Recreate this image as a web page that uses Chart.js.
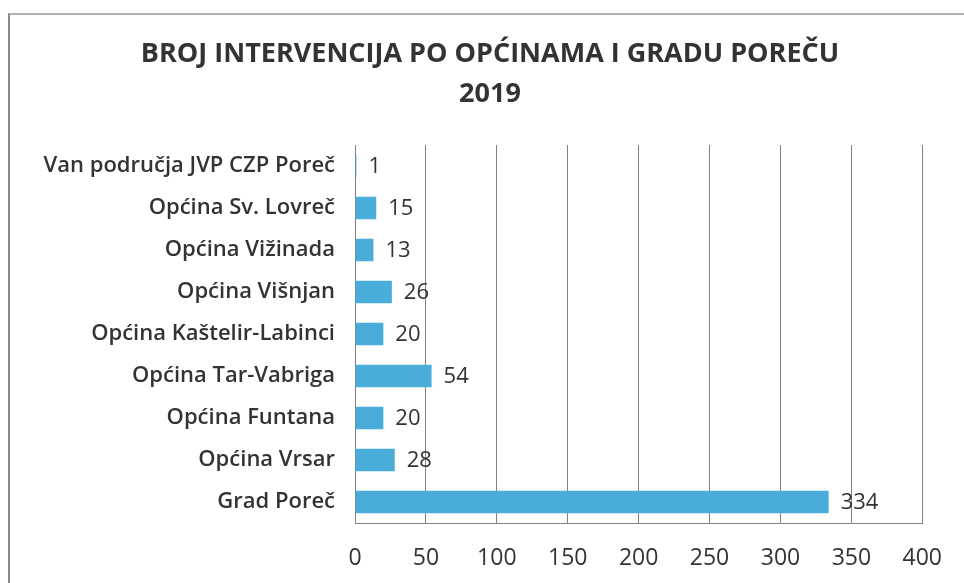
<!DOCTYPE html>
<html>
<head>
<meta charset="utf-8">
<script src="https://cdn.jsdelivr.net/npm/chart.js@4.4.1/dist/chart.umd.min.js"></script>
<style>
  html, body { margin: 0; padding: 0; background: #fff; }
  #wrap { position: relative; width: 964px; height: 583px; overflow: hidden; }
  #frame { position: absolute; left: 8px; top: 13px; width: 1000px; height: 1000px;
           border-left: 2px solid #8a8a8a; border-top: 2px solid #b0b0b0; box-sizing: border-box; }
  canvas { position: absolute; left: 0; top: 0; }
</style>
</head>
<body>
<div id="wrap">
  <div id="frame"></div>
  <canvas id="c" width="964" height="583"></canvas>
</div>
<script>
const categories = [
  'Van područja JVP CZP Poreč',
  'Općina Sv. Lovreč',
  'Općina Vižinada',
  'Općina Višnjan',
  'Općina Kaštelir-Labinci',
  'Općina Tar-Vabriga',
  'Općina Funtana',
  'Općina Vrsar',
  'Grad Poreč'
];
const values = [1, 15, 13, 26, 20, 54, 20, 28, 334];
const titleLines = ['BROJ INTERVENCIJA PO OPĆINAMA I GRADU POREČU', '2019'];
const xMin = 0, xMax = 400, xStep = 50;

const FONT = "'Open Sans', 'DejaVu Sans', sans-serif";

const valueLabels = {
  id: 'valueLabels',
  afterDatasetsDraw(chart) {
    const ctx = chart.ctx;
    const meta = chart.getDatasetMeta(0);
    ctx.save();
    ctx.font = "22px " + FONT;
    ctx.fillStyle = '#333333';
    ctx.textAlign = 'left';
    ctx.textBaseline = 'middle';
    meta.data.forEach((bar, i) => {
      ctx.fillText(String(values[i]), bar.x + 12, bar.y + 1);
    });
    ctx.restore();
  }
};

const chartTitle = {
  id: 'chartTitle',
  afterDraw(chart) {
    const ctx = chart.ctx;
    ctx.save();
    ctx.font = "bold 27px " + FONT;
    ctx.fillStyle = '#333333';
    ctx.textAlign = 'center';
    ctx.textBaseline = 'middle';
    ctx.fillText(titleLines[0], 490, 54);
    ctx.fillText(titleLines[1], 490, 94);
    ctx.restore();
  }
};

new Chart(document.getElementById('c'), {
  type: 'bar',
  data: {
    labels: categories,
    datasets: [{
      data: values,
      backgroundColor: '#4aacd8',
      borderWidth: 0,
      barPercentage: 0.53,
      categoryPercentage: 1.0
    }]
  },
  options: {
    indexAxis: 'y',
    responsive: false,
    animation: false,
    layout: { padding: { left: 0, right: 40, top: 145, bottom: 0 } },
    plugins: {
      legend: { display: false },
      tooltip: { enabled: false },
      title: { display: false }
    },
    scales: {
      x: {
        min: xMin, max: xMax,
        ticks: { stepSize: xStep, color: '#333333', font: { family: FONT, size: 23 }, padding: 22 },
        grid: { color: '#808080', lineWidth: 1, drawTicks: false },
        border: { color: '#808080', width: 1 },
        afterFit(scale) { scale.height = 60; }
      },
      y: {
        ticks: { color: '#333333', font: { family: FONT, size: 22, weight: '600' }, padding: 20 },
        grid: { display: false, drawTicks: false },
        border: { color: '#808080', width: 1 },
        afterFit(scale) { scale.width = 355; }
      }
    }
  },
  plugins: [valueLabels, chartTitle]
});
</script>
</body>
</html>
